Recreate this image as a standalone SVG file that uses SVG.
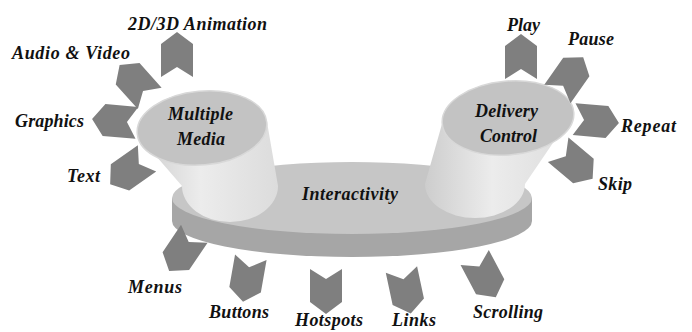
<svg xmlns="http://www.w3.org/2000/svg" width="692" height="332" viewBox="0 0 692 332">
<style>
.lbl{font-family:"Liberation Serif",serif;font-weight:bold;font-style:italic;font-size:18px;fill:#111}
.chev{fill:#7f7f7f}
.ctop{fill:#c3c3c3;stroke:#d8d8d8;stroke-width:1.5}
.pside{fill:#a6a6a6}
.ptop{fill:#c6c6c6}
</style>
<defs>
<path id="chev" d="M-16,22 L0,12 L16,22 L16,-11 L0,-23 L-16,-11 Z"/>
<linearGradient id="body" x1="0" y1="0" x2="1" y2="0">
<stop offset="0" stop-color="#cdcdcd"/>
<stop offset="0.45" stop-color="#ececec"/>
<stop offset="1" stop-color="#dcdcdc"/>
</linearGradient>
</defs>
<rect width="692" height="332" fill="#fff"/>
<g id="interactivity">
<ellipse class="pside" cx="352" cy="221" rx="180" ry="36"/>
<rect class="pside" x="172" y="198" width="360" height="23"/>
<ellipse class="ptop" cx="352" cy="198" rx="180" ry="36"/>
<text class="lbl" x="302" y="200" textLength="96">Interactivity</text>
</g>
<g id="multiple-media">
<path d="M137,134 L182,186 A48,36 0 0 0 278,186 L267,122 Z" fill="url(#body)"/>
<ellipse class="ctop" cx="202" cy="128" rx="65" ry="37" transform="rotate(-5 202 128)"/>
<text class="lbl" x="168" y="120" textLength="65">Multiple</text>
<text class="lbl" x="177" y="145" textLength="48">Media</text>
</g>
<g id="delivery-control">
<path d="M442,124 L425,184 A50,34 0 0 0 525,184 L574,112 Z" fill="url(#body)"/>
<ellipse class="ctop" cx="508" cy="118" rx="66" ry="37" transform="rotate(-5 508 118)"/>
<text class="lbl" x="475" y="117" textLength="63">Delivery</text>
<text class="lbl" x="480" y="142" textLength="57">Control</text>
</g>
<g id="connectors" class="chev">
<use href="#chev" transform="translate(177,55) rotate(0)"/>
<use href="#chev" transform="translate(135,82) rotate(-42)"/>
<use href="#chev" transform="translate(115,121) rotate(-85)"/>
<use href="#chev" transform="translate(129,171) rotate(-125)"/>
<use href="#chev" transform="translate(182,252) rotate(214)"/>
<use href="#chev" transform="translate(247,279) rotate(190)"/>
<use href="#chev" transform="translate(326,291) rotate(180)"/>
<use href="#chev" transform="translate(406,291) rotate(168)"/>
<use href="#chev" transform="translate(485,277) rotate(152)"/>
<use href="#chev" transform="translate(575,164) rotate(130)"/>
<use href="#chev" transform="translate(596,121) rotate(95)"/>
<use href="#chev" transform="translate(570,76) rotate(35)"/>
<use href="#chev" transform="translate(521,57) rotate(0)"/>
</g>
<g id="animation"><text class="lbl" x="128" y="30" textLength="139">2D/3D Animation</text></g>
<g id="audio-video"><text class="lbl" x="12" y="59" textLength="118">Audio &amp; Video</text></g>
<g id="graphics"><text class="lbl" x="15" y="127" textLength="69">Graphics</text></g>
<g id="text"><text class="lbl" x="67" y="182" textLength="33">Text</text></g>
<g id="menus"><text class="lbl" x="128" y="293" textLength="54">Menus</text></g>
<g id="buttons"><text class="lbl" x="209" y="318" textLength="60">Buttons</text></g>
<g id="hotspots"><text class="lbl" x="295" y="326" textLength="68">Hotspots</text></g>
<g id="links"><text class="lbl" x="392" y="326" textLength="44">Links</text></g>
<g id="scrolling"><text class="lbl" x="473" y="318" textLength="70">Scrolling</text></g>
<g id="skip"><text class="lbl" x="598" y="190" textLength="34">Skip</text></g>
<g id="repeat"><text class="lbl" x="621" y="132" textLength="55">Repeat</text></g>
<g id="pause"><text class="lbl" x="568" y="45" textLength="46">Pause</text></g>
<g id="play"><text class="lbl" x="507" y="31" textLength="33">Play</text></g>
</svg>
